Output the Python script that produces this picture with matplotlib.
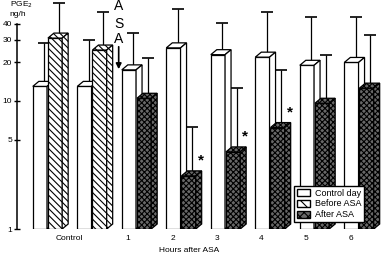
import matplotlib.pyplot as plt
from matplotlib.patches import Polygon, Patch

# PGE2 excretion (ng/h), log scale
group_labels = ['Control', '1', '2', '3', '4', '5', '6']
control_day = [13, 13, 17.5, 26, 23, 22, 19, 20]
control_day_err = [28.4, 30, 34, 52, 40.7, 50, 45, 45]
asa_values = [31, 25, 10.5, 2.6, 4.0, 6.2, 9.6, 12.6]
asa_err = [58, 49.6, 21.7, 6.3, 12.6, 17.5, 22.9, 32.8]
asa_kind = ['before', 'before', 'after', 'after', 'after', 'after', 'after', 'after']
significant = [False, False, False, True, True, True, False, False]

plt.rcParams['font.family'] = ['Liberation Sans', 'DejaVu Sans']
plt.rcParams['hatch.linewidth'] = 0.8

fig = plt.figure(figsize=(3.82, 2.56), dpi=100)
ax = fig.add_axes([17/382, 27/256, 365/382, 229/256])
ax.set_yscale('log')
ax.set_ylim(1, 61.5)
ax.set_xlim(-0.685, 7.517)

# depth of the pseudo 3d bars
ppu = 44.5                      # pixels per x unit
dx = 6 / ppu
fy = 10 ** (5 / 128)            # 5 px up on the log axis
w = 0.32

styles = {
    'control': dict(facecolor='white', hatch=None),
    'before': dict(facecolor='white', hatch='\\\\\\\\\\'),
    'after': dict(facecolor='#686868', hatch='xxxxxx'),
}


def bar3d(x, h, style, z):
    st = styles[style]
    x0, x1 = x - w / 2, x + w / 2
    ax.bar(x, h - 1, bottom=1, width=w, color=st['facecolor'], edgecolor='k',
           hatch=st['hatch'], linewidth=0.9, zorder=z)
    top = Polygon([(x0, h), (x1, h), (x1 + dx, h * fy), (x0 + dx, h * fy)],
                  closed=True, facecolor=st['facecolor'], edgecolor='k',
                  hatch=st['hatch'], linewidth=0.9, zorder=z)
    side = Polygon([(x1, 1), (x1, h), (x1 + dx, h * fy), (x1 + dx, fy)],
                   closed=True, facecolor=st['facecolor'], edgecolor='k',
                   hatch=st['hatch'], linewidth=0.9, zorder=z)
    ax.add_patch(top)
    ax.add_patch(side)


for i in range(len(control_day)):
    xw = i - 0.17
    xa = i + 0.17
    bar3d(xw, control_day[i], 'control', 2)
    bar3d(xa, asa_values[i], asa_kind[i], 3)
    ax.errorbar(xw + 0.1, control_day[i] * fy ** 0.5,
                yerr=[[0], [control_day_err[i] - control_day[i] * fy ** 0.5]],
                fmt='none', ecolor='k', elinewidth=0.9, capsize=4.3,
                capthick=1.2, zorder=1)
    ax.errorbar(xa + 0.08, asa_values[i] * fy ** 0.5,
                yerr=[[0], [asa_err[i] - asa_values[i] * fy ** 0.5]],
                fmt='none', ecolor='k', elinewidth=0.9, capsize=4.3,
                capthick=1.2, zorder=1)
    if significant[i]:
        ax.text(xa + 0.27, asa_values[i] * 1.31, '*', fontsize=11,
                fontweight='bold', ha='center', va='center')

# ASA marker between control and hour 1
ax.text(1.6, 10 ** ((229 - 6) / 128), 'A', fontsize=10, ha='center', va='center')
ax.text(1.6, 10 ** ((229 - 24) / 128), 'S', fontsize=10, ha='center', va='center')
ax.text(1.6, 10 ** ((229 - 39) / 128), 'A', fontsize=10, ha='center', va='center')
ax.annotate('', xy=(1.6, 10 ** ((229 - 72) / 128)),
            xytext=(1.6, 10 ** ((229 - 44) / 128)),
            arrowprops=dict(arrowstyle='-|>', color='k', lw=1.2,
                            mutation_scale=8))

# axes styling
for s in ['top', 'right', 'bottom']:
    ax.spines[s].set_visible(False)
ax.spines['left'].set_bounds(1, 40)
ax.spines['left'].set_linewidth(1.1)
ax.set_yticks([1, 5, 10, 20, 30, 40])
ax.set_yticklabels(['1', '5', '10', '20', '30', '40'])
ax.minorticks_off()
ax.tick_params(axis='y', direction='inout', length=5, width=1, labelsize=6, pad=1)
ax.set_xticks([0.5] + [i - 0.19 for i in range(2, 8)])
ax.set_xticklabels(group_labels)
ax.tick_params(axis='x', length=0, labelsize=6, pad=4)

fig.text(21/382, 1 - 5/256, 'PGE$_2$', fontsize=6, ha='center', va='center')
fig.text(18/382, 1 - 14/256, 'ng/h', fontsize=6, ha='center', va='center')
fig.text(189/382, 5 / 256, 'Hours after ASA', fontsize=6, ha='center', va='center')

handles = [Patch(facecolor='white', edgecolor='k', label='Control day'),
           Patch(facecolor='white', edgecolor='k', hatch='\\\\\\', label='Before ASA'),
           Patch(facecolor='#686868', edgecolor='k', hatch='xxxx', label='After ASA')]
leg = fig.legend(handles=handles, loc='lower left', bbox_to_anchor=(294/382, 34/256),
                 fontsize=6.5, frameon=True, fancybox=False, framealpha=1,
                 edgecolor='k', handlelength=1.5, handleheight=0.8,
                 borderpad=0.3, labelspacing=0.2, handletextpad=0.5,
                 borderaxespad=0)
leg.get_frame().set_linewidth(1)
leg.set_zorder(10)

plt.savefig('out.png', dpi=100)
